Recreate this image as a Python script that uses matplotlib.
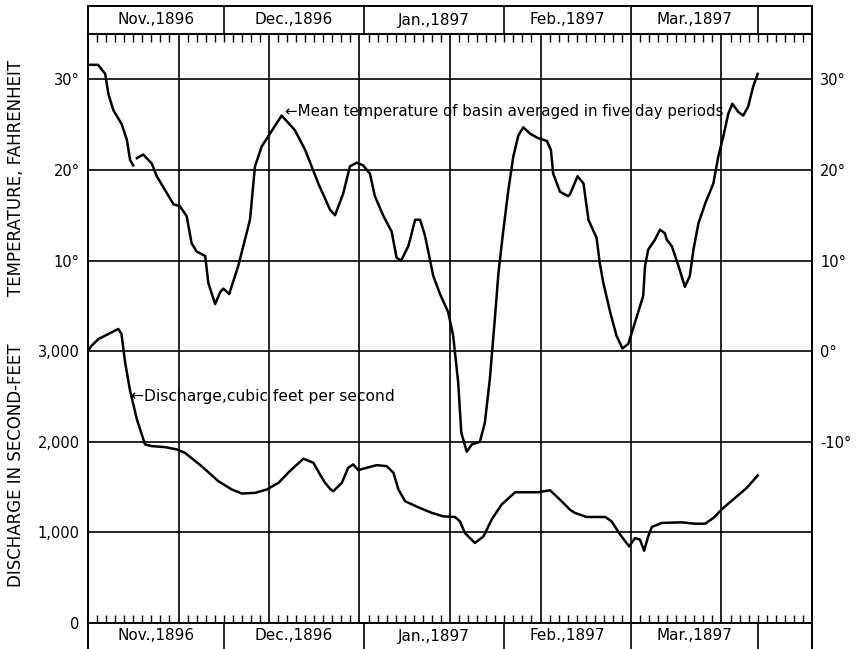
import numpy as np
import matplotlib
matplotlib.use("Agg")
import matplotlib.pyplot as plt

plt.rcParams['font.family'] = ['DejaVu Sans']

# days counted from Nov. 1, 1896
temp_days_a = [0, 2.2, 3.8, 4.5, 5.6, 7.4, 8.6, 9.3, 10.0]
temp_vals_a = [31.6, 31.6, 30.6, 28.4, 26.6, 25.1, 23.3, 21.1, 20.5]

temp_days_b = [10.8, 12.2, 14.1, 15.2, 17.0, 18.9, 20.3, 21.8, 22.9, 24.0, 25.9, 26.6,
               28.1, 29.2, 29.9, 31.2, 33.2, 35.8, 36.9, 38.4, 40.2, 42.8, 45.7, 48.0,
               50.9, 53.5, 54.6, 56.4, 57.9, 59.4, 60.8, 62.3, 63.4, 65.3, 67.1, 68.2,
               69.2, 70.8, 72.3, 73.4, 74.5, 76.3, 77.8, 79.6, 80.7, 81.8, 82.5, 83.7,
               84.8, 86.6, 87.7, 88.8, 89.9, 90.7, 91.8, 92.9, 94.0, 95.1, 96.2, 97.7,
               99.5, 101.4, 102.3, 102.8, 104.3, 106.1, 106.5, 108.2, 109.5, 110.6, 112.4, 113.1,
               113.9, 115.4, 116.8, 118.1, 119.4, 120.9, 122.7, 123.1, 123.8, 125.3, 126.4, 127.5,
               127.9, 129.0, 130.5, 131.9, 133.0, 133.8, 134.9, 136.4, 138.2, 139.3, 140.4, 141.5,
               142.4, 143.7, 144.8, 145.9, 147.0, 148.0]
temp_vals_b = [21.3, 21.7, 20.7, 19.3, 17.8, 16.2, 16.0, 14.9, 11.9, 11.0, 10.5, 7.5,
               5.2, 6.5, 6.9, 6.3, 9.4, 14.5, 20.4, 22.6, 24.0, 26.0, 24.4, 22.2,
               18.5, 15.6, 15.0, 17.4, 20.4, 20.8, 20.5, 19.6, 17.1, 14.9, 13.2, 10.3,
               10.0, 11.6, 14.5, 14.5, 12.7, 8.3, 6.3, 4.3, 1.7, -3.4, -9.0, -11.1,
               -10.3, -10.0, -7.9, -3.1, 3.5, 8.6, 13.4, 17.8, 21.5, 23.8, 24.7, 24.0,
               23.5, 23.2, 22.2, 19.6, 17.6, 17.1, 17.3, 19.3, 18.5, 14.5, 12.5, 9.7,
               7.5, 4.3, 1.7, 0.3, 0.8, 3.2, 6.1, 9.4, 11.2, 12.3, 13.4, 13.0,
               12.3, 11.6, 9.4, 7.1, 8.3, 11.2, 14.1, 16.3, 18.5, 21.5, 23.7, 26.2,
               27.3, 26.4, 26.0, 27.0, 29.2, 30.6]

flow_days = [0, 0.8, 2.3, 4.5, 6.7, 7.4, 8.2, 9.3, 10.8, 12.6, 14.1, 17.0,
             19.6, 21.4, 25.1, 28.8, 31.8, 34.0, 36.9, 39.5, 42.1, 44.6, 47.6, 49.8,
             52.2, 53.5, 54.2, 56.1, 57.5, 58.6, 59.7, 61.6, 63.8, 66.0, 67.5, 68.6,
             70.1, 73.0, 76.0, 78.5, 81.1, 82.2, 83.3, 85.5, 87.4, 89.2, 91.4, 94.4,
             97.3, 99.5, 102.1, 104.3, 106.5, 107.6, 110.2, 114.3, 115.7, 117.6, 119.6, 120.9,
             122.0, 122.9, 123.8, 124.6, 126.8, 131.2, 134.1, 136.4, 138.2, 140.4, 143.0, 145.6,
             148.0]
flow_vals = [3005, 3060, 3134, 3189, 3245, 3190, 2876, 2562, 2248, 1971, 1952, 1941,
             1916, 1879, 1731, 1565, 1473, 1429, 1436, 1473, 1547, 1676, 1813, 1768,
             1560, 1480, 1454, 1547, 1713, 1750, 1687, 1713, 1742, 1731, 1658, 1473,
             1343, 1277, 1215, 1177, 1170, 1122, 993, 883, 956, 1141, 1307, 1443,
             1443, 1443, 1465, 1362, 1251, 1215, 1170, 1170, 1122, 975, 845, 938,
             919, 797, 956, 1060, 1104, 1111, 1096, 1096, 1159, 1270, 1381, 1492,
             1628]

months = ["Nov.,1896", "Dec.,1896", "Jan.,1897", "Feb.,1897", "Mar.,1897"]
month_edges = [0, 30, 61, 92, 120, 148]

temp_ticks = [30, 20, 10]
right_ticks = [30, 20, 10, 0, -10]
flow_ticks = [0, 1000, 2000, 3000]


def temp_to_flow(t):
    # 0 deg sits on the 3,000 line, 10 deg per 1,000 sec-ft
    return (t + 30) * 100


W, H = 858, 649
fig = plt.figure(figsize=(W / 100, H / 100), dpi=100)
L, R, T, B = 88, 812, 34, 623

ax = fig.add_axes([L / W, (H - B) / H, (R - L) / W, (B - T) / H])
ax.set_xlim(0, 160)
ax.set_ylim(0, temp_to_flow(35))

# grid
ax.set_xticks(np.arange(0, 161, 20))
ax.set_xticks(np.arange(0, 161, 2), minor=True)
ax.set_xticklabels([])
ax.tick_params(axis='x', which='major', length=0, top=True)
ax.tick_params(axis='x', which='minor', direction='in', length=6, width=1.0,
               top=True, bottom=True)
ax.grid(True, axis='x', which='major', color='black', lw=1.2)
for v in range(1000, 7000, 1000):
    ax.axhline(v, color='black', lw=1.2, zorder=1)

left_pos = [temp_to_flow(t) for t in temp_ticks] + flow_ticks
left_lab = [f"{t}°" for t in temp_ticks] + [f"{v:,}" for v in flow_ticks]
ax.set_yticks(left_pos)
ax.set_yticklabels(left_lab, fontsize=10.5)
ax.tick_params(axis='y', length=0, pad=6)
for s in ax.spines.values():
    s.set_linewidth(1.4)

ax.plot(flow_days, flow_vals, color='black', lw=1.8, solid_joinstyle='round')

ax2 = ax.twinx()
ax2.set_ylim(-30, 35)
ax2.set_yticks(right_ticks)
ax2.set_yticklabels([f"{t}°" for t in right_ticks], fontsize=10.5)
ax2.tick_params(axis='y', length=0, pad=6)
for s in ax2.spines.values():
    s.set_visible(False)
ax2.plot(temp_days_a, temp_vals_a, color='black', lw=1.8, solid_joinstyle='round')
ax2.plot(temp_days_b, temp_vals_b, color='black', lw=1.8, solid_joinstyle='round')

ax2.text(43.5, 26.5, "\u2190Mean temperature of basin averaged in five day periods",
         fontsize=10.8, ha='left', va='center')
ax.text(9.6, 2500, "\u2190Discharge,cubic feet per second",
        fontsize=11.2, ha='left', va='center')

fig.text(16 / W, 1 - 178 / H, "TEMPERATURE, FAHRENHEIT", rotation=90,
         ha='center', va='center', fontsize=12)
fig.text(16 / W, 1 - 465 / H, "DISCHARGE IN SECOND-FEET", rotation=90,
         ha='center', va='center', fontsize=12)

# month bands above and below the chart
top = fig.add_axes([L / W, (H - T) / H, (R - L) / W, 28 / H])
bot = fig.add_axes([L / W, 0, (R - L) / W, (H - B) / H])
for band in (top, bot):
    band.set_xlim(0, 160)
    band.set_ylim(0, 1)
    band.set_xticks([])
    band.set_yticks([])
    for s in band.spines.values():
        s.set_linewidth(1.4)
    for e in month_edges[1:]:
        band.axvline(e, color='black', lw=1.2)
    for i, m in enumerate(months):
        mid = (month_edges[i] + month_edges[i + 1]) / 2
        band.text(mid, 0.5, m, ha='center', va='center', fontsize=11)
bot.spines['bottom'].set_visible(False)

fig.savefig("out.png", dpi=100)
